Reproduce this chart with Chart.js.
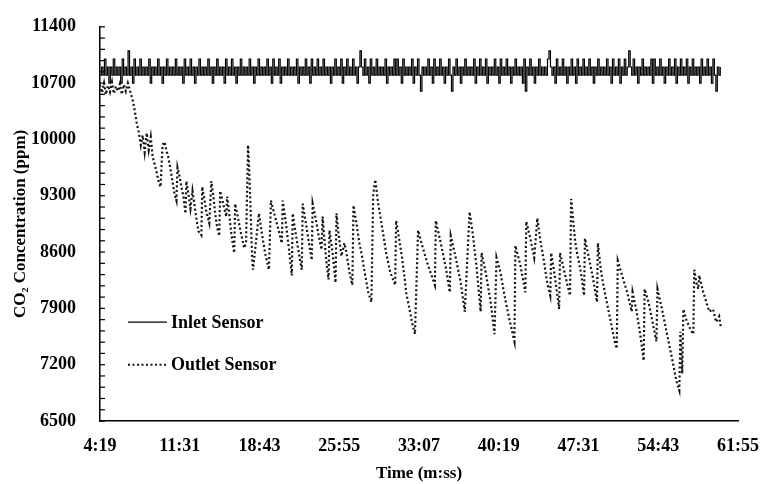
<!DOCTYPE html>
<html>
<head>
<meta charset="utf-8">
<script src="https://cdn.jsdelivr.net/npm/chart.js@4.4.1/dist/chart.umd.min.js"></script>
<style>
    html, body { margin: 0; padding: 0; background: #fff; }
    #wrap { width: 766px; height: 484px; }
</style>
</head>
<body>
<div id="wrap"><canvas id="co2Chart"></canvas></div>
<script>
// axis ticks (seconds / ppm)
var xTicks = [259, 691, 1123, 1555, 1987, 2419, 2851, 3283, 3715];
var yTicks = [6500, 7200, 7900, 8600, 9300, 10000, 10700, 11400];
var yMinorStep = 140;

// inlet sensor, logged every 8 s from 4:19
var inletStart = 259;
var inletStep = 8;
var inletValues = [
    10800,10900,10800,11000,10800,10900,10700,10900,10800,11000,
    10800,10900,10800,10900,10700,11000,10800,10900,10800,11100,
    10800,10900,10700,11000,10800,10900,10800,11000,10800,10900,
    10800,10900,10800,11000,10700,10900,10800,10900,10800,11000,
    10800,10900,10700,10900,10800,11000,10800,10900,10800,10900,
    10800,11000,10800,10900,10800,10900,10700,11000,10800,10900,
    10800,11000,10800,10900,10700,10900,10800,11000,10800,10900,
    10800,10900,10800,11000,10800,10900,10700,10900,10800,11000,
    10800,10900,10800,10900,10700,11000,10800,10900,10800,11000,
    10800,10900,10700,10900,10800,11000,10800,10900,10800,10900,
    10800,11000,10800,10900,10700,10900,10800,11000,10800,10900,
    10800,10900,10800,11000,10800,10900,10700,11000,10800,10900,
    10800,11000,10700,10900,10800,10900,10800,11000,10800,10900,
    10800,10900,10800,11000,10700,10900,10800,10900,10800,11000,
    10800,10900,10700,11000,10800,10900,10800,11000,10800,10900,
    10800,11000,10800,10900,10800,10900,10700,10900,10800,11000,
    10800,10900,10800,11000,10700,10900,10800,11000,10800,10900,
    10800,11000,10800,10900,10700,10900,11100,10900,10800,11000,
    10800,10900,10700,11000,10800,10900,10800,11000,10800,10900,
    10800,10900,10800,11000,10700,10900,10800,10900,10800,11000,
    10800,11000,10800,10900,10700,11000,10800,10900,10800,10900,
    10800,11000,10700,10900,10800,11000,10800,10600,10900,10800,
    10900,10800,11000,10800,10900,10700,11000,10800,10900,10800,
    11000,10800,10900,10700,10900,10800,11000,10800,10600,10900,
    10800,11000,10800,10900,10700,10900,10800,11000,10800,10900,
    10800,10900,10800,11000,10700,10900,10800,11000,10800,10900,
    10800,11000,10700,10900,10800,10900,10800,11000,10800,10900,
    10700,11000,10800,10900,10800,11000,10800,10900,10700,10900,
    10800,11000,10800,10900,10800,10900,10700,11000,10600,10900,
    10800,11000,10800,10900,10700,10900,10800,11000,10800,10900,
    10800,10900,10800,11000,11100,10900,10800,10900,10700,11000,
    10800,10900,10800,11000,10800,10900,10700,10900,10800,11000,
    10800,10900,10700,11000,10800,10900,10800,11000,10800,10900,
    10800,11000,10800,10900,10700,10900,10800,11000,10800,10900,
    10800,10900,10800,11000,10800,10900,10700,11000,10800,10900,
    10800,11000,10700,10900,10800,11000,10800,10900,11100,10900,
    10800,11000,10800,10900,10700,10900,10800,11000,10800,10900,
    10800,10900,10800,11000,10700,11000,10800,10900,10800,11000,
    10800,10900,10700,10900,10800,11000,10800,10900,10800,11000,
    10700,10900,10800,11000,10800,10900,10800,11000,10700,10900,
    10800,11000,10800,10900,10800,10900,10700,11000,10800,10900,
    10800,11000,10800,10900,10700,11000,10800,10600,10900,10800,
    10900
];

// outlet sensor (time in seconds, ppm)
var outletTimes = [
    259,270,281,291,302,313,324,334,345,356,367,377,388,399,410,420,
    437,447,458,469,480,490,501,512,523,534,544,555,566,577,587,598,609,620,630,641,
    652,663,673,679,690,700,711,722,727,738,749,760,770,781,792,808,813,824,835,851,
    862,873,883,894,905,910,926,943,948,959,970,986,991,1007,1023,1040,1050,1061,1066,1072,
    1077,1083,1088,1120,1136,1153,1174,1185,1206,1228,1244,1249,1266,1282,1298,1303,1319,1336,1352,1357,
    1373,1389,1406,1411,1427,1443,1459,1465,1476,1486,1497,1502,1519,1535,1540,1551,1567,1583,1594,1610,
    1626,1632,1648,1664,1675,1691,1712,1729,1739,1750,1766,1788,1809,1831,1858,1863,1879,1895,1912,1917,
    1933,1949,1965,1982,2008,2035,2073,2078,2105,2132,2154,2159,2186,2213,2235,2261,2278,2299,2321,2326,
    2348,2375,2396,2407,2428,2450,2477,2504,2509,2536,2563,2568,2590,2611,2628,2644,2665,2681,2698,2703,
    2724,2746,2751,2773,2794,2805,2811,2821,2832,2843,2864,2881,2886,2907,2929,2951,2956,2972,2983,3004,
    3026,3047,3058,3064,3091,3117,3139,3144,3166,3187,3204,3209,3230,3252,3273,3279,3306,3333,3360,3381,
    3397,3403,3413,3419,3435,3457,3473,3478,3489,3500,3505,3527,3543,3559,3580,3596,3613,3623
];
var outletValues = [
    10680,10580,10700,10560,10670,10590,10710,10570,10660,10600,10690,10560,10680,10600,10700,10620,
    10480,10360,10200,10090,9930,10050,9840,10080,9870,10030,9790,9690,9590,9470,9410,9930,9970,9850,9770,9630,
    9470,9320,9240,9650,9540,9410,9290,9080,9480,9320,9140,9360,9200,9020,8860,8810,9410,9260,9100,8960,
    9480,9300,9080,8900,8800,9360,9200,9040,9290,9080,8830,8590,9200,9020,8830,8650,8710,9930,9690,9320,
    8960,8530,8380,9080,8830,8590,8380,9240,9050,8860,8710,9240,8960,8650,8310,9080,8830,8590,8380,9200,
    8980,8740,8500,9200,9020,8810,8630,9040,8710,8470,8260,8870,8590,8220,9080,8830,8550,8710,8590,8350,
    8190,9180,8960,8710,8590,8370,8100,7980,9320,9500,9200,8900,8590,8350,8190,8990,8770,8530,8220,8100,
    7920,7730,7580,8870,8650,8440,8190,8990,8710,8410,8100,8800,8530,8220,7860,9100,8830,8410,7860,8590,
    8350,7980,7580,8530,8350,8060,7760,7490,8680,8440,8100,8980,8770,8530,9020,8750,8470,8220,8060,8590,
    8280,7890,8590,8370,8160,8060,9260,9020,8750,8590,8350,8060,8770,8530,8280,7980,8710,8380,8220,7980,
    7730,7490,7400,8490,8280,8080,7860,8100,7860,7550,7250,8140,7980,7730,7490,8140,7860,7550,7250,7000,
    6880,7610,7090,7890,7760,7640,7580,8380,8220,8140,8310,8100,7980,7860,7890,7730,7800,7650
];

function formatTime(sec) {
    var m = Math.floor(sec / 60);
    var s = sec % 60;
    return m + ':' + (s < 10 ? '0' + s : s);
}

var serif = "'Liberation Serif', 'Times New Roman', serif";

var sensorMarks = {
    id: 'sensorMarks',
    afterDraw: function (chart) {
        var ctx = chart.ctx;
        var area = chart.chartArea;
        var yScale = chart.scales.y;
        ctx.save();
        // inside ticks on the value axis
        ctx.strokeStyle = '#000';
        ctx.lineWidth = 1.2;
        for (var v = yTicks[0]; v <= yTicks[yTicks.length - 1]; v += yMinorStep) {
            var py = yScale.getPixelForValue(v);
            ctx.beginPath();
            ctx.moveTo(area.left, py);
            ctx.lineTo(area.left + 5, py);
            ctx.stroke();
        }
        // legend inside the plot
        var rows = [7730, 7200];
        ctx.font = 'bold 18px ' + serif;
        ctx.textBaseline = 'middle';
        ctx.fillStyle = '#000';
        chart.data.datasets.forEach(function (ds, i) {
            var py = yScale.getPixelForValue(rows[i]);
            ctx.beginPath();
            ctx.strokeStyle = ds.borderColor;
            ctx.lineWidth = i === 0 ? 1.2 : 2;
            ctx.setLineDash(ds.borderDash || []);
            ctx.moveTo(area.left + 28, py);
            ctx.lineTo(area.left + 67, py);
            ctx.stroke();
            ctx.setLineDash([]);
            ctx.fillText(ds.label, area.left + 71, py + 1);
        });
        ctx.restore();
    }
};

var ctx = document.getElementById('co2Chart').getContext('2d');
var co2Chart = new Chart(ctx, {
    type: 'line',
    data: {
        datasets: [
            {
                label: 'Inlet Sensor',
                data: inletValues.map(function (v, i) { return { x: inletStart + i * inletStep, y: v }; }),
                borderColor: '#000',
                borderWidth: 1.2,
                stepped: true,
                pointRadius: 0
            },
            {
                label: 'Outlet Sensor',
                data: outletValues.map(function (v, i) { return { x: outletTimes[i], y: v }; }),
                borderColor: '#111',
                borderWidth: 2.2,
                borderDash: [2, 2.5],
                pointRadius: 0,
                tension: 0
            }
        ]
    },
    options: {
        responsive: true,
        maintainAspectRatio: false,
        animation: false,
        layout: {
            autoPadding: false,
            padding: { top: 20, right: 24, bottom: 0, left: 0 }
        },
        scales: {
            x: {
                type: 'linear',
                min: 259,
                max: 3715,
                afterBuildTicks: function (scale) {
                    scale.ticks = xTicks.map(function (v) { return { value: v }; });
                },
                afterFit: function (scale) { scale.height = 63; },
                grid: { display: false },
                border: { display: true, color: '#000', width: 1.5 },
                ticks: {
                    autoSkip: false,
                    maxRotation: 0,
                    padding: 7,
                    color: '#000',
                    font: { family: serif, size: 18, weight: 'bold' },
                    callback: function (value) { return formatTime(value); }
                },
                title: {
                    display: true,
                    text: 'Time (m:ss)',
                    color: '#000',
                    padding: { top: 0, bottom: 0 },
                    font: { family: serif, size: 17, weight: 'bold' }
                }
            },
            y: {
                min: 6500,
                max: 11400,
                afterBuildTicks: function (scale) {
                    scale.ticks = yTicks.map(function (v) { return { value: v }; });
                },
                afterFit: function (scale) { scale.width = 100; },
                grid: { display: false },
                border: { display: true, color: '#000', width: 1.5 },
                ticks: {
                    padding: 16,
                    color: '#000',
                    font: { family: serif, size: 18, weight: 'bold' },
                    callback: function (value) { return String(value); }
                },
                title: {
                    display: true,
                    text: 'CO\u2082 Concentration (ppm)',
                    color: '#000',
                    padding: { top: 10, bottom: 0 },
                    font: { family: serif, size: 17, weight: 'bold' }
                }
            }
        },
        plugins: {
            legend: { display: false },
            tooltip: { enabled: false }
        }
    },
    plugins: [sensorMarks]
});
</script>
</body>
</html>
